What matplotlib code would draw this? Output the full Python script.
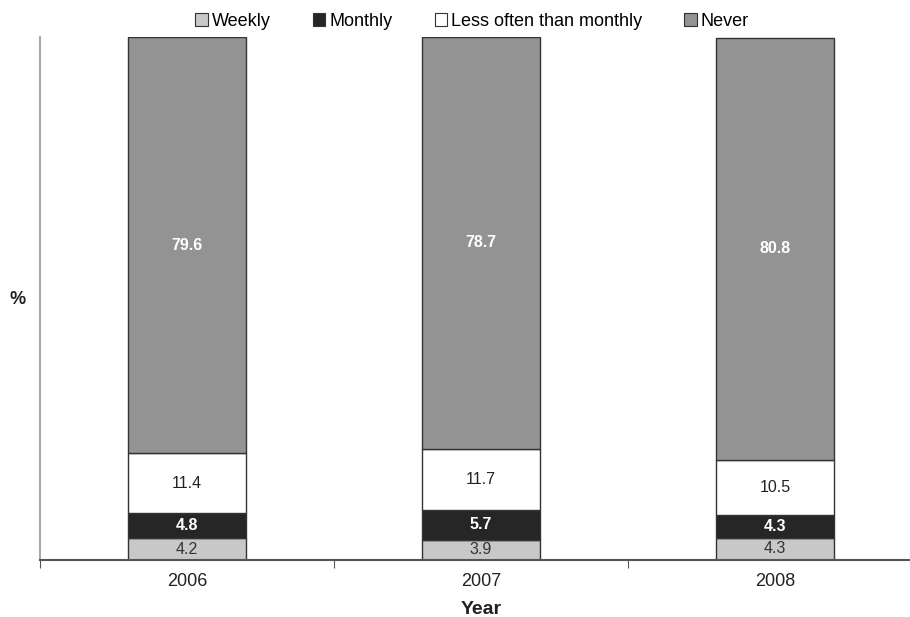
import matplotlib
matplotlib.use("Agg")
import matplotlib.pyplot as plt
from matplotlib.patches import Patch

plt.rcParams['font.family'] = ['Liberation Sans', 'DejaVu Sans']

years = ["2006", "2007", "2008"]
weekly = [4.2, 3.9, 4.3]
monthly = [4.8, 5.7, 4.3]
less_often = [11.4, 11.7, 10.5]
never = [79.6, 78.7, 80.8]

series = [
    ("Weekly", weekly, "#c8c8c8", "#333333", "normal"),
    ("Monthly", monthly, "#262626", "white", "bold"),
    ("Less often than monthly", less_often, "#ffffff", "#222222", "normal"),
    ("Never", never, "#939393", "white", "bold"),
]

fig = plt.figure(figsize=(9.1, 6.17), dpi=100)
ax = fig.add_axes([40/910, 1-560/617, 882/910, 523/617])

x = list(range(len(years)))
bottom = [0.0]*len(years)
handles = []
for name, vals, col, tcol, tw in series:
    ax.bar(x, vals, width=0.4, bottom=bottom, color=col,
           edgecolor="#333333", linewidth=1.0, zorder=2)
    for xi, v, b in zip(x, vals, bottom):
        ax.text(xi, b + v/2, f"{v:.1f}", ha="center", va="center",
                color=tcol, fontweight=tw, fontsize=11.5)
    bottom = [b + v for b, v in zip(bottom, vals)]
    handles.append(Patch(facecolor=col, edgecolor="#333333", linewidth=0.8, label=name))

ax.set_xlim(-0.5, 2.5)
ax.set_ylim(0, 100)
ax.set_xticks([-0.5, 0.5, 1.5, 2.5])
ax.set_xticklabels([])
ax.set_xticks(x, minor=True)
ax.set_xticklabels(years, minor=True, fontsize=13, color="#222222")
ax.tick_params(axis="x", which="major", length=6, color="#555555", direction="out")
ax.tick_params(axis="x", which="minor", length=0, pad=9)
ax.set_yticks([])
for s in ["top", "right"]:
    ax.spines[s].set_visible(False)
ax.spines["left"].set_color("#aaaaaa")
ax.spines["left"].set_linewidth(1.5)
ax.spines["bottom"].set_color("#555555")
ax.spines["bottom"].set_linewidth(1.5)

ax.set_xlabel("Year", fontsize=14, fontweight="bold", labelpad=8, color="#222222")
fig.text(18/910, 1-300/617, "%", fontsize=13, fontweight="bold", ha="center", va="center", color="#222222")

fig.legend(handles=handles, loc="center", bbox_to_anchor=(472/910, 1-21/617),
           ncol=4, frameon=False, fontsize=13, handlelength=0.7, handleheight=0.7,
           handletextpad=0.2, columnspacing=2.35, borderaxespad=0)

fig.savefig("out.png", dpi=100)
